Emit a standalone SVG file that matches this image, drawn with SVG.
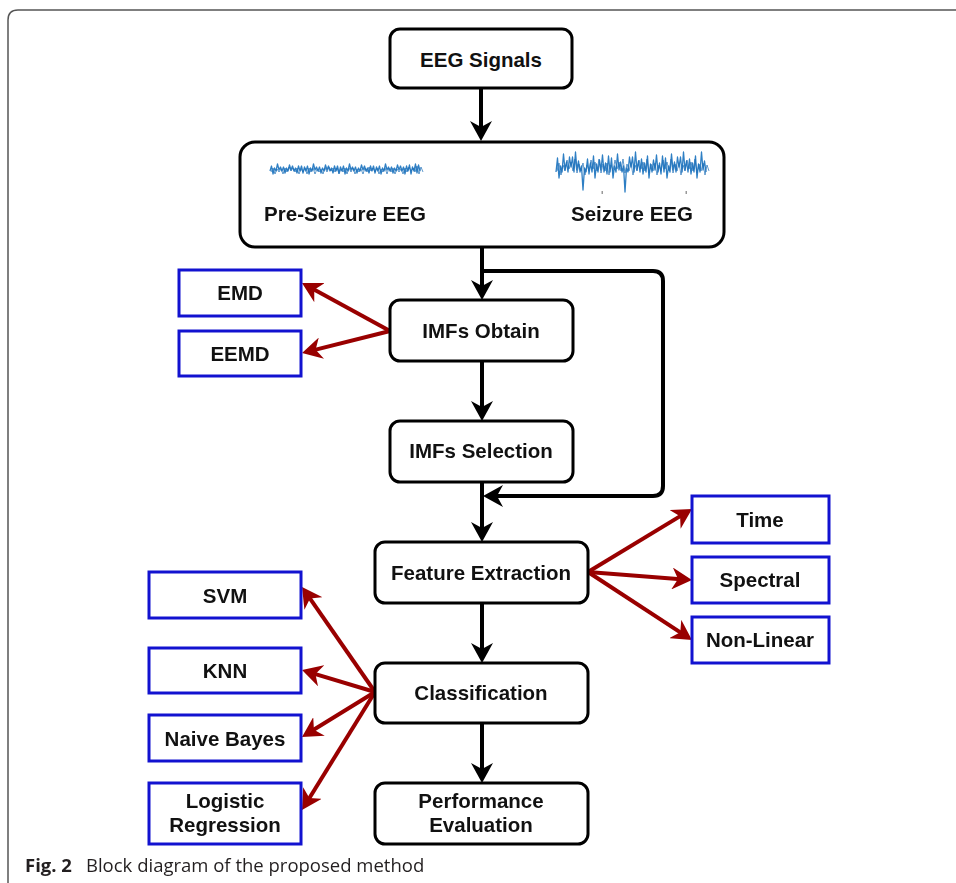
<svg xmlns="http://www.w3.org/2000/svg" width="956" height="883" viewBox="0 0 956 883">
<style>
  .bx{fill:#fff;stroke:#000;stroke-width:3}
  .bl{fill:#fff;stroke:#1212d0;stroke-width:3}
  .t{font-family:"Liberation Sans",Arial,sans-serif;font-weight:bold;font-size:20.5px;fill:#111;text-anchor:middle}
  .k{fill:none;stroke:#000;stroke-width:4;marker-end:url(#ak)}
  .r{fill:none;stroke:#990000;stroke-width:4;marker-end:url(#ar)}
  .w{fill:none;stroke:#2f7fc4;stroke-width:1.3;stroke-linejoin:round}
  .w2{fill:none;stroke:#1f6fb8;stroke-width:1;stroke-linejoin:round;opacity:0.7}
  .cap{font-family:"Open Sans","Noto Sans",sans-serif;font-size:18.5px;fill:#231f20}
</style>
<defs>
  <marker id="ak" markerUnits="userSpaceOnUse" markerWidth="22" markerHeight="22" viewBox="0 0 22 22" refX="12" refY="11" orient="auto">
    <path d="M0,0 L20,11 L0,22 L6,11 Z" fill="#000"/>
  </marker>
  <marker id="ar" markerUnits="userSpaceOnUse" markerWidth="22" markerHeight="22" viewBox="0 0 22 22" refX="12" refY="11" orient="auto">
    <path d="M0,0 L20,11 L0,22 L6,11 Z" fill="#990000"/>
  </marker>
  <filter id="blur" x="-5%" y="-50%" width="110%" height="200%"><feGaussianBlur stdDeviation="0.5"/></filter>
</defs>
<rect width="956" height="883" fill="#fff"/>
<path d="M8,883 V20 Q8,10 18,10 H956" fill="none" stroke="#555" stroke-width="1.5"/>

<g id="connectors">
  <path class="k" d="M481,88 V133"/>
  <path class="k" d="M482,247 V292"/>
  <path class="k" d="M482,361 V413"/>
  <path class="k" d="M482,482 V534"/>
  <path class="k" d="M482,271 H653 Q663,271 663,281 V486 Q663,496 653,496 H491"/>
  <path class="k" d="M482,603 V655"/>
  <path class="k" d="M482,723 V775"/>
  <path class="r" d="M390,331 L309,286.8"/>
  <path class="r" d="M390,331 L309.8,351.1"/>
  <path class="r" d="M588,572 L685.2,513.1"/>
  <path class="r" d="M588,572 L684,579.4"/>
  <path class="r" d="M588,572 L685.3,635.6"/>
  <path class="r" d="M375,692 L306.6,593.6"/>
  <path class="r" d="M375,692 L309.7,672.3"/>
  <path class="r" d="M375,692 L308.8,732.8"/>
  <path class="r" d="M375,692 L306.2,803.2"/>
</g>

<g id="eeg-signals">
  <rect class="bx" x="390" y="29" width="182" height="59" rx="10"/>
  <text class="t" x="481" y="67">EEG Signals</text>
</g>

<g id="eeg-types">
  <rect class="bx" x="240" y="142" width="484" height="105" rx="15"/>
  <g filter="url(#blur)">
    <path class="w" d="M270,171 l1.5,-5 l1.5,8 l1.5,-6 l1.5,3 l1.5,-7 l1.5,6 l1.5,-3 l1.5,4 l1.5,-4 l1.5,6 l1.5,-5 l1.5,3 l1.5,-6 l1.5,5 l1.5,-4 l1.5,5 l1.5,-3 l1.5,5 l1.5,-7 l1.5,5 l1.5,-5 l1.5,7 l1.5,-6 l1.5,4 l1.5,-5 l1.5,8 l1.5,-6 l1.5,3 l1.5,-7 l1.5,6 l1.5,-3 l1.5,4 l1.5,-4 l1.5,6 l1.5,-5 l1.5,3 l1.5,-6 l1.5,5 l1.5,-4 l1.5,5 l1.5,-3 l1.5,5 l1.5,-7 l1.5,5 l1.5,-5 l1.5,7 l1.5,-6 l1.5,4 l1.5,-5 l1.5,8 l1.5,-6 l1.5,3 l1.5,-7 l1.5,6 l1.5,-3 l1.5,4 l1.5,-4 l1.5,6 l1.5,-5 l1.5,3 l1.5,-6 l1.5,5 l1.5,-4 l1.5,5 l1.5,-3 l1.5,5 l1.5,-7 l1.5,5 l1.5,-5 l1.5,7 l1.5,-6 l1.5,4 l1.5,-5 l1.5,8 l1.5,-6 l1.5,3 l1.5,-7 l1.5,6 l1.5,-3 l1.5,4 l1.5,-4 l1.5,6 l1.5,-5 l1.5,3 l1.5,-6 l1.5,5 l1.5,-4 l1.5,5 l1.5,-4 l1.5,7 l1.5,-8 l1.5,5 l1.5,-6 l1.5,9 l1.5,-7 l1.5,4 l1.5,-7 l1.5,9 l1.5,-8 l1.5,6"/>
    <path class="w2" d="M271,172 l2,-4 l2,6 l2,-5 l2,3 l2,-3 l2,5 l2,-6 l2,4 l2,-5 l2,4 l2,-3 l2,4 l2,-4 l2,6 l2,-5 l2,3 l2,-4 l2,6 l2,-6 l2,4 l2,-4 l2,6 l2,-5 l2,3 l2,-3 l2,5 l2,-6 l2,4 l2,-5 l2,4 l2,-3 l2,4 l2,-4 l2,6 l2,-5 l2,3 l2,-4 l2,6 l2,-6 l2,4 l2,-4 l2,6 l2,-5 l2,3 l2,-3 l2,5 l2,-6 l2,4 l2,-5 l2,4 l2,-3 l2,4 l2,-4 l2,6 l2,-5 l2,3 l2,-4 l2,6 l2,-6 l2,4 l2,-4 l2,6 l2,-5 l2,3 l2,-3 l2,5 l2,-6 l2,4 l2,-5 l2,4 l2,-3 l2,4 l2,-6 l2,8 l2,-7 l2,5"/>
    <path class="w" d="M556,172 l1.5,-14 l1.5,20 l1.5,-12 l1.5,6 l1.5,-18 l1.5,16 l1.5,-8 l1.5,10 l1.5,-15 l1.5,10 l1.5,-10 l1.5,15 l1.5,-20 l1.5,18 l1.5,-9 l1.5,11 l1.5,-6 l1.5,24 l1.5,-22 l1.5,4 l1.5,-13 l1.5,15 l1.5,-11 l1.5,9 l1.5,-16 l1.5,22 l1.5,-14 l1.5,8 l1.5,-12 l1.5,10 l1.5,-15 l1.5,17 l1.5,-9 l1.5,11 l1.5,-18 l1.5,16 l1.5,-14 l1.5,20 l1.5,-12 l1.5,6 l1.5,-18 l1.5,16 l1.5,-8 l1.5,10 l1.5,-6 l1.5,26 l1.5,-24 l1.5,4 l1.5,-15 l1.5,10 l1.5,-10 l1.5,15 l1.5,-20 l1.5,18 l1.5,-9 l1.5,11 l1.5,-13 l1.5,15 l1.5,-11 l1.5,9 l1.5,-16 l1.5,22 l1.5,-14 l1.5,8 l1.5,-12 l1.5,10 l1.5,-15 l1.5,17 l1.5,-9 l1.5,11 l1.5,-18 l1.5,16 l1.5,-14 l1.5,20 l1.5,-12 l1.5,6 l1.5,-18 l1.5,16 l1.5,-8 l1.5,10 l1.5,-15 l1.5,10 l1.5,-10 l1.5,15 l1.5,-20 l1.5,18 l1.5,-9 l1.5,11 l1.5,-13 l1.5,15 l1.5,-11 l1.5,9 l1.5,-16 l1.5,22 l1.5,-14 l1.5,8 l1.5,-20 l1.5,18 l1.5,-9 l1.5,11"/>
    <path class="w2" d="M557,171 l2,-8 l2,12 l2,-10 l2,6 l2,-11 l2,9 l2,-7 l2,9 l2,-12 l2,14 l2,-9 l2,7 l2,-8 l2,12 l2,-10 l2,6 l2,-11 l2,9 l2,-7 l2,9 l2,-12 l2,14 l2,-9 l2,7 l2,-8 l2,12 l2,-10 l2,6 l2,-11 l2,9 l2,-7 l2,9 l2,-12 l2,14 l2,-9 l2,7 l2,-8 l2,12 l2,-10 l2,6 l2,-11 l2,9 l2,-7 l2,9 l2,-12 l2,14 l2,-9 l2,7 l2,-8 l2,12 l2,-10 l2,6 l2,-11 l2,9 l2,-7 l2,9 l2,-12 l2,14 l2,-9 l2,7 l2,-8 l2,12 l2,-10 l2,6 l2,-11 l2,9 l2,-7 l2,9 l2,-12 l2,14 l2,-9 l2,7 l2,-8 l2,12 l2,-10 l2,6"/>
  </g>
  <rect x="601.5" y="191" width="1.5" height="3" fill="#999"/>
  <rect x="685.5" y="191" width="1.5" height="3" fill="#999"/>
  <text class="t" x="345" y="221">Pre-Seizure EEG</text>
  <text class="t" x="632" y="221">Seizure EEG</text>
</g>

<g id="imfs-obtain">
  <rect class="bx" x="390" y="300" width="183" height="61" rx="10"/>
  <text class="t" x="481" y="338">IMFs Obtain</text>
</g>
<g id="emd">
  <rect class="bl" x="179" y="270" width="122" height="46"/>
  <text class="t" x="240" y="300">EMD</text>
</g>
<g id="eemd">
  <rect class="bl" x="179" y="331" width="122" height="45"/>
  <text class="t" x="240" y="361">EEMD</text>
</g>

<g id="imfs-selection">
  <rect class="bx" x="390" y="421" width="183" height="61" rx="10"/>
  <text class="t" x="481" y="458">IMFs Selection</text>
</g>

<g id="feature-extraction">
  <rect class="bx" x="375" y="542" width="213" height="61" rx="10"/>
  <text class="t" x="481" y="580">Feature Extraction</text>
</g>
<g id="time">
  <rect class="bl" x="692" y="496" width="137" height="47"/>
  <text class="t" x="760" y="527">Time</text>
</g>
<g id="spectral">
  <rect class="bl" x="692" y="557" width="137" height="46"/>
  <text class="t" x="760" y="587">Spectral</text>
</g>
<g id="non-linear">
  <rect class="bl" x="692" y="617" width="137" height="46"/>
  <text class="t" x="760" y="647">Non-Linear</text>
</g>

<g id="classification">
  <rect class="bx" x="375" y="663" width="213" height="60" rx="10"/>
  <text class="t" x="481" y="700">Classification</text>
</g>
<g id="svm">
  <rect class="bl" x="149" y="572" width="152" height="46"/>
  <text class="t" x="225" y="603">SVM</text>
</g>
<g id="knn">
  <rect class="bl" x="149" y="648" width="152" height="45"/>
  <text class="t" x="225" y="678">KNN</text>
</g>
<g id="naive-bayes">
  <rect class="bl" x="149" y="715" width="152" height="46"/>
  <text class="t" x="225" y="746">Naive Bayes</text>
</g>
<g id="logistic-regression">
  <rect class="bl" x="149" y="783" width="152" height="61"/>
  <text class="t" x="225" y="808">Logistic</text>
  <text class="t" x="225" y="832">Regression</text>
</g>

<g id="performance-evaluation">
  <rect class="bx" x="375" y="783" width="213" height="61" rx="10"/>
  <text class="t" x="481" y="808">Performance</text>
  <text class="t" x="481" y="832">Evaluation</text>
</g>

<text class="cap" x="25" y="872"><tspan font-weight="bold">Fig. 2</tspan><tspan x="86">Block diagram of the proposed method</tspan></text>
</svg>
